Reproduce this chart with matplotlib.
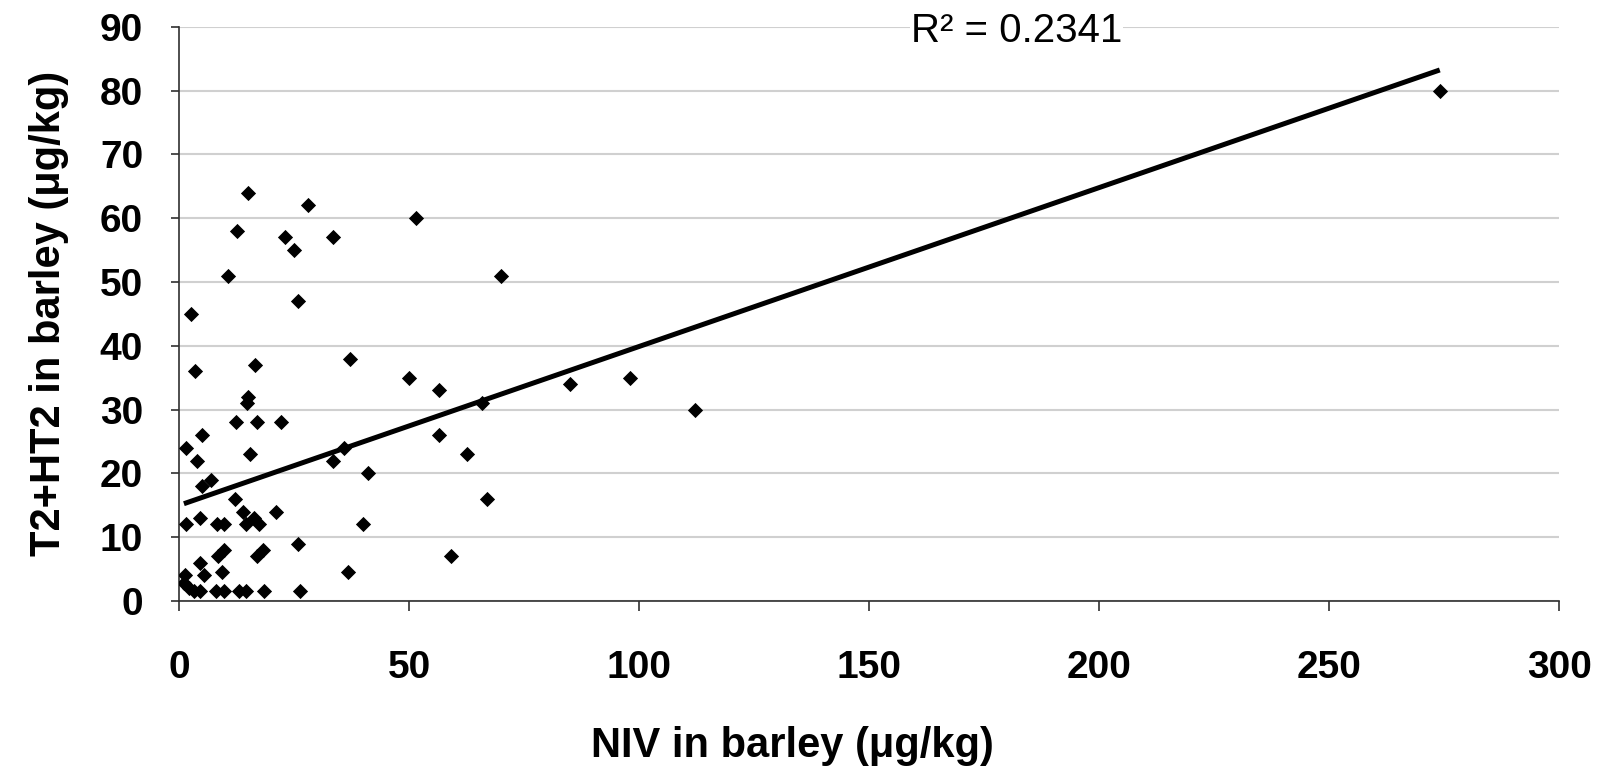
import numpy as np
import matplotlib
matplotlib.use('Agg')
import matplotlib.pyplot as plt

plt.rcParams['font.family'] = ['Liberation Sans', 'DejaVu Sans']

# NIV (x) and T2+HT2 (y) in barley, ug/kg
niv = [15, 28, 51.5, 12.5, 23, 33.5, 25, 10.5, 70, 25.7,
       2.5, 37, 3.4, 16.4, 50, 56.5, 15, 14.7, 65.7, 12.4,
       16.8, 22, 4.9, 56.5, 1.4, 35.7, 15.4, 62.6, 3.9, 33.5,
       41, 6.9, 5, 66.8, 12.2, 13.8, 21.1, 16.3, 4.4, 1.4,
       8.2, 9.7, 14.4, 17.4, 39.9, 25.7, 18.2, 16.8, 9.8, 8.5,
       59, 4.5, 9.2, 36.6, 5.4, 1.3, 1.0, 2.1, 3.2, 4.6,
       7.9, 9.7, 12.9, 14.4, 18.4, 26.2, 85, 98, 112, 274]
t2ht2 = [64, 62, 60, 58, 57, 57, 55, 51, 51, 47,
         45, 38, 36, 37, 35, 33, 32, 31, 31, 28,
         28, 28, 26, 26, 24, 24, 23, 23, 22, 22,
         20, 19, 18, 16, 16, 14, 14, 13, 13, 12,
         12, 12, 12, 12, 12, 9, 8, 7, 8, 7,
         7, 6, 4.5, 4.5, 4, 4, 2.8, 2.0, 1.5, 1.5,
         1.5, 1.5, 1.5, 1.5, 1.5, 1.5, 34, 35, 30, 80]

# linear trendline as drawn in the original
trend_slope = 0.249
trend_intercept = 15.0

x_ticks = [0, 50, 100, 150, 200, 250, 300]
y_ticks = [0, 10, 20, 30, 40, 50, 60, 70, 80, 90]
r2_label = 'R² = 0.2341'

x = np.array(niv)
y = np.array(t2ht2)
fit_x = np.array([x.min(), x.max()])
fit_y = trend_slope * fit_x + trend_intercept

fig = plt.figure(figsize=(16.01, 7.66), dpi=100)
ax = fig.add_axes([0.112, 0.2154, 0.862, 0.7497])

ax.scatter(x, y, marker='D', s=60, color='black', linewidths=0, zorder=3)
ax.plot(fit_x, fit_y, color='black', lw=3.6, solid_capstyle='butt', zorder=4)

ax.set_xlim(0, 300)
ax.set_ylim(0, 90)
ax.set_xticks(x_ticks)
ax.set_yticks(y_ticks)
ax.yaxis.grid(True, color='#d0d0d0', lw=1.5)
ax.set_axisbelow(True)

for s in ['top', 'right']:
    ax.spines[s].set_visible(False)
for s in ['left', 'bottom']:
    ax.spines[s].set_color('#303030')
    ax.spines[s].set_linewidth(1.2)

ax.tick_params(axis='y', direction='out', length=6, width=1.2, color='#303030', pad=20,
               labelsize=28)
ax.tick_params(axis='x', direction='out', length=7, width=1.2, color='#303030', pad=28,
               labelsize=28)
for lab in ax.get_xticklabels() + ax.get_yticklabels():
    lab.set_fontweight('bold')

ax.set_xlabel('NIV in barley (μg/kg)', fontsize=30, fontweight='bold', labelpad=29, x=0.444)
ax.set_ylabel('T2+HT2 in barley (μg/kg)', fontsize=30, fontweight='bold', labelpad=22)

ax.text(182, 89.3, r2_label, fontsize=29, ha='center', va='center', zorder=5,
        bbox=dict(facecolor='white', edgecolor='none', pad=1))

fig.savefig('out.png', dpi=100)
